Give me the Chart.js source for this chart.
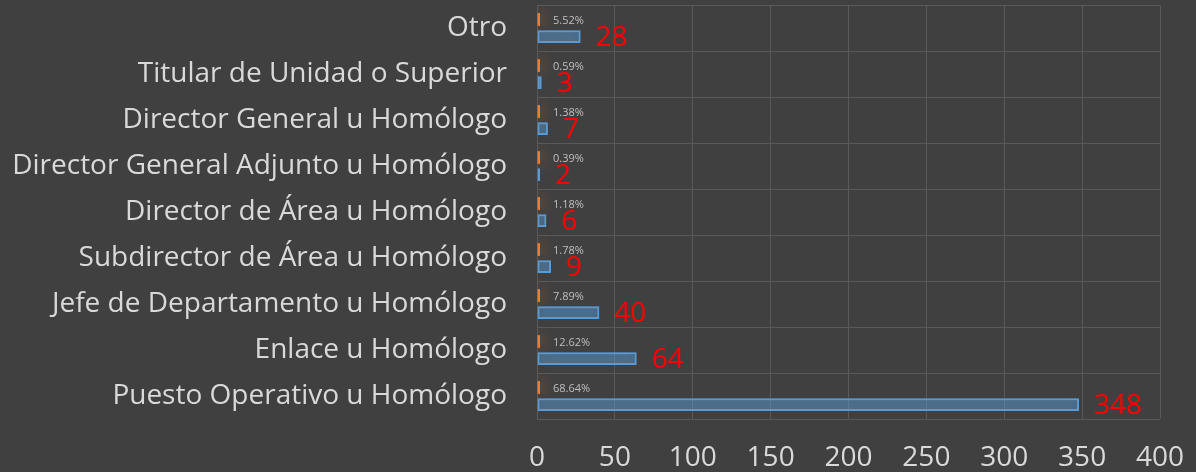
<!DOCTYPE html>
<html>
<head>
<meta charset="utf-8">
<script src="https://cdn.jsdelivr.net/npm/chart.js@4/dist/chart.umd.min.js"></script>
<style>
  html, body { margin: 0; padding: 0; background: #404040; }
  #wrap { width: 1196px; height: 472px; }
</style>
</head>
<body>
<div id="wrap"><canvas id="myChart"></canvas></div>
<script>
const categorias = [
  "Otro",
  "Titular de Unidad o Superior",
  "Director General u Homólogo",
  "Director General Adjunto u Homólogo",
  "Director de Área u Homólogo",
  "Subdirector de Área u Homólogo",
  "Jefe de Departamento u Homólogo",
  "Enlace u Homólogo",
  "Puesto Operativo u Homólogo"
];
const porcentajes = [5.52, 0.59, 1.38, 0.39, 1.18, 1.78, 7.89, 12.62, 68.64];
const cantidades = [28, 3, 7, 2, 6, 9, 40, 64, 348];
const ticksX = [0, 50, 100, 150, 200, 250, 300, 350, 400];

const fuente = "'Open Sans', 'Noto Sans', sans-serif";

/* Brillo alrededor de las barras */
const brillo = {
  id: "brillo",
  beforeDatasetDraw(chart, args) {
    const c = chart.ctx;
    c.save();
    c.shadowBlur = 14;
    c.shadowColor = args.index === 1 ? "rgba(91,155,213,1)" : "rgba(237,125,49,0.9)";
  },
  afterDatasetDraw(chart) {
    chart.ctx.restore();
  }
};

/* Etiquetas de porcentaje y cantidad */
const etiquetas = {
  id: "etiquetas",
  afterDatasetsDraw(chart) {
    const c = chart.ctx;
    c.save();
    const m0 = chart.getDatasetMeta(0);
    const m1 = chart.getDatasetMeta(1);
    c.textBaseline = "middle";
    c.textAlign = "left";
    m0.data.forEach((bar, i) => {
      c.font = "11px " + fuente;
      c.fillStyle = "#bfbfbf";
      c.fillText(porcentajes[i].toFixed(2) + "%", chart.chartArea.left + 16, bar.y + 1);
    });
    m1.data.forEach((bar, i) => {
      c.font = "28px " + fuente;
      c.fillStyle = "#ff0000";
      c.fillText(String(cantidades[i]), bar.x + 15, bar.y + 2);
    });
    c.restore();
  }
};

const ctx = document.getElementById("myChart");

new Chart(ctx, {
  type: "bar",
  data: {
    labels: categorias,
    datasets: [
      {
        label: "Porcentaje",
        data: porcentajes.map(p => p / 100),
        backgroundColor: "#ed7d31",
        borderWidth: 0,
        minBarLength: 3
      },
      {
        label: "Cantidad",
        data: cantidades,
        backgroundColor: "rgba(91,155,213,0.3)",
        borderColor: "#5b9bd5",
        borderWidth: 2,
        borderSkipped: false
      }
    ]
  },
  options: {
    indexAxis: "y",
    responsive: true,
    maintainAspectRatio: false,
    animation: false,
    categoryPercentage: 0.74,
    barPercentage: 0.75,
    layout: { padding: { top: 5, right: 36, bottom: 0, left: 12 } },
    plugins: {
      legend: { display: false },
      tooltip: { enabled: false }
    },
    scales: {
      x: {
        min: 0,
        max: 400,
        afterBuildTicks: axis => { axis.ticks = ticksX.map(v => ({ value: v })); },
        afterFit: scale => {
          scale.height = 53;
          scale.paddingLeft = 0;
          scale.paddingRight = 0;
        },
        grid: { color: "#595959", lineWidth: 1, drawTicks: false },
        border: { display: false },
        ticks: { color: "#d9d9d9", font: { size: 28, family: fuente }, padding: 22 }
      },
      y: {
        afterFit: scale => {
          scale.paddingTop = 0;
          scale.paddingBottom = 0;
          scale.width = 525;
        },
        grid: { color: "#595959", lineWidth: 1, drawTicks: false },
        border: { color: "#595959" },
        ticks: { color: "#d9d9d9", font: { size: 28, family: fuente }, padding: 30 }
      }
    }
  },
  plugins: [brillo, etiquetas]
});
</script>
</body>
</html>
